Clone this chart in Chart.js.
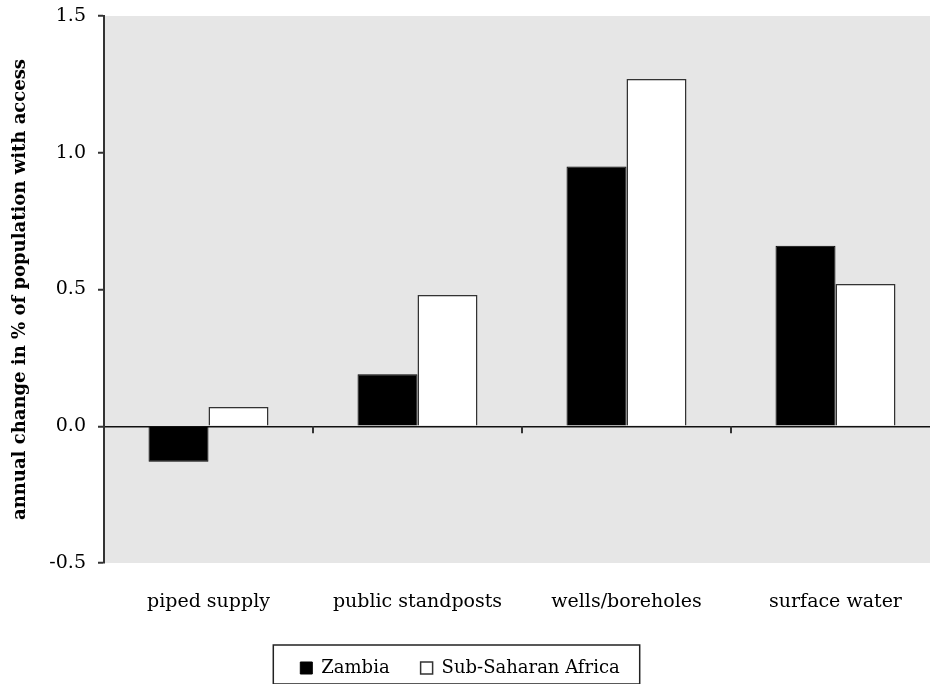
<!DOCTYPE html>
<html>
<head>
<meta charset="utf-8">
<script src="https://cdn.jsdelivr.net/npm/chart.js@4.4.1/dist/chart.umd.min.js"></script>
<style>
html, body { margin: 0; padding: 0; background: #fff; overflow: hidden; }
#wrap { position: absolute; left: -20px; top: 0; width: 970px; height: 690px; }
</style>
</head>
<body>
<div id="wrap"><canvas id="chart" width="970" height="690"></canvas></div>
<script>
// data
const categories = ['piped supply', 'public standposts', 'wells/boreholes', 'surface water'];
const zambia = [-0.13, 0.19, 0.95, 0.66];
const subSaharan = [0.07, 0.48, 1.27, 0.52];
const yMin = -0.5;
const yMax = 1.5;
const yStep = 0.5;

const FONT = "'DejaVu Serif', serif";

// grey plot background
const plotBackground = {
    id: 'plotBackground',
    beforeDraw(chart) {
        const { ctx, chartArea } = chart;
        ctx.save();
        ctx.fillStyle = '#e6e6e6';
        ctx.fillRect(chartArea.left, chartArea.top, chartArea.right - chartArea.left, chartArea.bottom - chartArea.top);
        ctx.restore();
    }
};

// small ticks on the zero line between categories + box round the legend
const extras = {
    id: 'extras',
    afterDraw(chart) {
        const { ctx, scales } = chart;
        const y0 = scales.y.getPixelForValue(0);
        ctx.save();
        ctx.strokeStyle = '#333';
        ctx.lineWidth = 2;
        for (let i = 0; i < categories.length - 1; i++) {
            const x = (scales.x.getPixelForValue(i) + scales.x.getPixelForValue(i + 1)) / 2;
            ctx.beginPath();
            ctx.moveTo(x, y0);
            ctx.lineTo(x, y0 + 7);
            ctx.stroke();
        }
        const boxes = chart.legend.legendHitBoxes;
        if (boxes && boxes.length) {
            const left = Math.min(...boxes.map(b => b.left));
            const right = Math.max(...boxes.map(b => b.left + b.width));
            const mid = boxes[0].top + boxes[0].height / 2;
            ctx.lineWidth = 1.5;
            ctx.strokeStyle = '#222';
            ctx.strokeRect(left - 27, mid - 23, right - left + 47, 39);
        }
        ctx.restore();
    }
};

new Chart(document.getElementById('chart').getContext('2d'), {
    type: 'bar',
    data: {
        labels: categories,
        datasets: [{
            label: 'Zambia',
            data: zambia,
            backgroundColor: '#000000',
            borderColor: '#000000',
            borderWidth: 1,
            categoryPercentage: 0.574,
            barPercentage: 1.0,
        }, {
            label: 'Sub-Saharan Africa',
            data: subSaharan,
            backgroundColor: '#ffffff',
            borderColor: '#333333',
            borderWidth: 1.5,
            categoryPercentage: 0.574,
            barPercentage: 1.0,
        }],
    },
    options: {
        responsive: false,
        animation: false,
        devicePixelRatio: 1,
        layout: {
            padding: { top: 16, right: 10, left: 0, bottom: 3 },
        },
        plugins: {
            legend: {
                position: 'bottom',
                labels: {
                    font: { family: FONT, size: 18 },
                    color: '#000',
                    boxWidth: 12,
                    boxHeight: 12,
                    padding: 31,
                },
            },
            tooltip: { enabled: false },
        },
        scales: {
            x: {
                afterFit(scale) { scale.height = 65; },
                grid: { display: false },
                border: { display: false },
                ticks: {
                    font: { family: FONT, size: 19 },
                    color: '#000',
                    padding: 20,
                },
            },
            y: {
                min: yMin,
                max: yMax,
                afterFit(scale) {
                    scale.width = 124;
                    scale.paddingTop = 0;
                    scale.paddingBottom = 0;
                },
                ticks: {
                    stepSize: yStep,
                    font: { family: FONT, size: 19 },
                    color: '#000',
                    padding: 12,
                    callback: v => Number(v).toFixed(1),
                },
                grid: {
                    drawOnChartArea: true,
                    color: c => (c.tick && c.tick.value === 0 ? '#111' : 'rgba(0,0,0,0)'),
                    lineWidth: 1.5,
                    tickColor: '#333',
                    tickLength: 6,
                    tickWidth: 2,
                },
                border: { display: true, color: '#333', width: 2 },
                title: {
                    display: true,
                    text: 'annual change in % of population with access',
                    font: { family: FONT, size: 18, weight: 'bold' },
                    color: '#000',
                    padding: { top: 30, bottom: 0 },
                },
            },
        },
    },
    plugins: [plotBackground, extras],
});
</script>
</body>
</html>
